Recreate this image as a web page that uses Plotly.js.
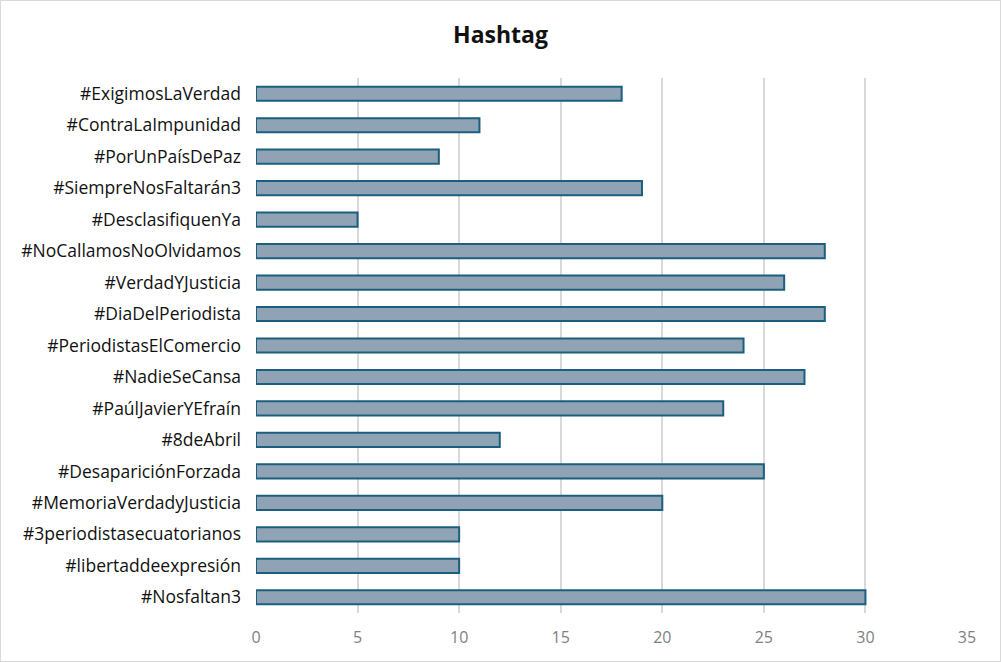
<!DOCTYPE html>
<html>
<head>
<meta charset="utf-8">
<script src="https://cdn.plot.ly/plotly-3.0.1.min.js"></script>
<style>
  html, body { margin: 0; padding: 0; background: #fff; }
  #chart { width: 1001px; height: 662px; box-sizing: border-box; border: 1px solid #d9d9d9; }
</style>
</head>
<body>
<div id="chart"></div>
<script>
// hashtags from top to bottom, as in the picture
var hashtags = [
  "#ExigimosLaVerdad", "#ContraLaImpunidad", "#PorUnPaísDePaz", "#SiempreNosFaltarán3",
  "#DesclasifiquenYa", "#NoCallamosNoOlvidamos", "#VerdadYJusticia", "#DiaDelPeriodista",
  "#PeriodistasElComercio", "#NadieSeCansa", "#PaúlJavierYEfraín", "#8deAbril",
  "#DesapariciónForzada", "#MemoriaVerdadyJusticia", "#3periodistasecuatorianos",
  "#libertaddeexpresión", "#Nosfaltan3"
];
var counts = [18, 11, 9, 19, 5, 28, 26, 28, 24, 27, 23, 12, 25, 20, 10, 10, 30];
var xTicks = [0, 5, 10, 15, 20, 25, 30, 35];

var trace = {
  type: "bar",
  orientation: "h",
  y: hashtags,
  x: counts,
  width: 0.45,
  marker: { color: "#8fa3b5", line: { color: "#1b5f80", width: 2 } },
  hoverinfo: "x+y"
};

var layout = {
  width: 999, height: 660,
  margin: { l: 255, r: 33, t: 77, b: 48 },
  paper_bgcolor: "#fff", plot_bgcolor: "#fff",
  showlegend: false,
  font: { family: "Open Sans, Liberation Sans, sans-serif" },
  title: { text: "<b>Hashtag</b>", x: 0.5, xanchor: "center", y: 0.949, yanchor: "middle",
           font: { size: 23, color: "#111" } },
  xaxis: {
    range: [0, 35], tickvals: xTicks, ticktext: xTicks.map(String),
    showgrid: true, gridcolor: "#d9d9d9", gridwidth: 1.5,
    zeroline: false, showline: false, ticks: "",
    ticklabelstandoff: 13,
    tickfont: { size: 16, color: "#7f7f7f" }
  },
  yaxis: {
    type: "category", autorange: "reversed",
    showgrid: false, zeroline: false, showline: false, ticks: "",
    ticklabelstandoff: 14,
    tickfont: { size: 17.5, color: "#111" }
  }
};

Plotly.newPlot("chart", [trace], layout, { displayModeBar: false, responsive: false });
</script>
</body>
</html>
